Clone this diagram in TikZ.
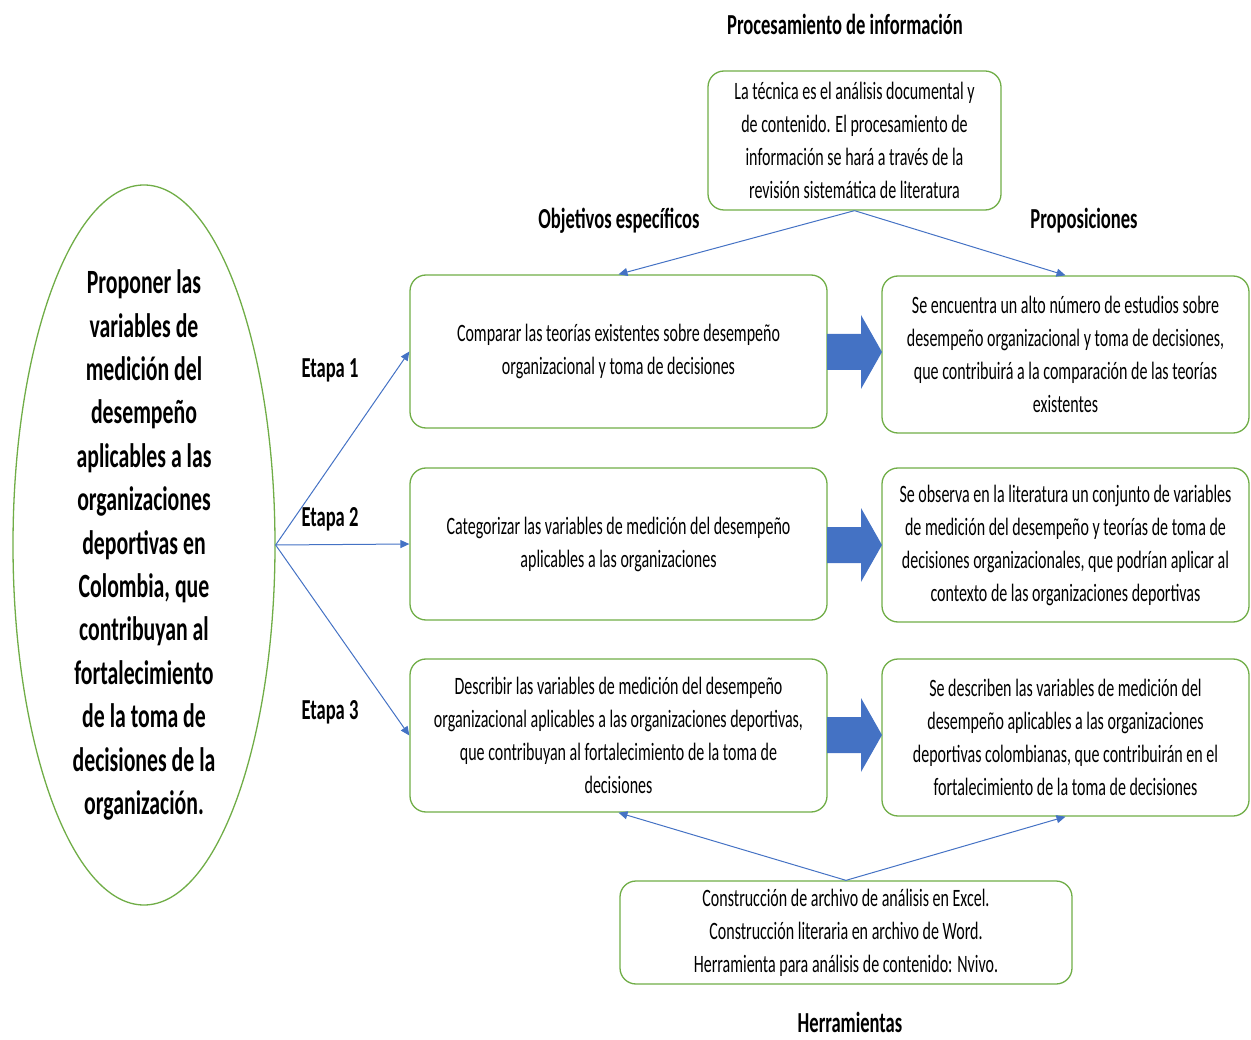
\documentclass[tikz,border=0pt]{standalone}
\usepackage{fontspec}
\setmainfont{Carlito}[FakeStretch=0.64]
\usetikzlibrary{shapes.geometric,arrows.meta}
\definecolor{gborder}{HTML}{70AD47}
\definecolor{bline}{HTML}{4472C4}
\tikzset{
  obox/.style={draw=gborder, line width=1.3pt, rounded corners=16pt, align=center, inner sep=0pt},
  btxt/.style={font=\fontsize{25}{33}\selectfont, align=center},
  lbl/.style={font=\bfseries\fontsize{29}{32}\selectfont, inner sep=0pt},
  arr/.style={draw=bline, line width=1pt, -{Triangle[length=9pt,width=8pt]}},
  blockarrow/.style={fill=bline, draw=none},
}
\begin{document}
\begin{tikzpicture}[x=1pt,y=-1pt]
\useasboundingbox (0,0) rectangle (1251,1040);

% Title labels
\node[lbl] (t1) at (845,24) {Procesamiento de información};
\node[lbl] (t2) at (619,221) {Objetivos específicos};
\node[lbl] (t3) at (1084,221) {Proposiciones};
\node[lbl] (t4) at (850,1022) {Herramientas};

% Top box
\node[obox, minimum width=293pt, minimum height=139pt, btxt] (top) at (854.5,140.5)
 {La técnica es el análisis documental y\\de contenido. El procesamiento de\\información se hará a través de la\\revisión sistemática de literatura};

% Ellipse
\node[ellipse, draw=gborder, line width=1.3pt, minimum width=262pt, minimum height=720pt, inner sep=0pt] (goal) at (144,545) {};
\node[align=center, inner sep=0pt, font=\bfseries\fontsize{34}{43.4}\selectfont] (goaltxt) at (goal.center)
 {Proponer las\\variables de\\medición del\\desempeño\\aplicables a las\\organizaciones\\deportivas en\\Colombia, que\\contribuyan al\\fortalecimiento\\de la toma de\\decisiones de la\\organización.};

% Objective boxes
\node[obox, minimum width=417pt, minimum height=153pt, btxt] (o1) at (618.5,351.5)
 {Comparar las teorías existentes sobre desempeño\\organizacional y toma de decisiones};
\node[obox, minimum width=417pt, minimum height=152pt, btxt] (o2) at (618.5,544)
 {Categorizar las variables de medición del desempeño\\aplicables a las organizaciones};
\node[obox, minimum width=417pt, minimum height=153pt, btxt] (o3) at (618.5,735.5)
 {Describir las variables de medición del desempeño\\organizacional aplicables a las organizaciones deportivas,\\que contribuyan al fortalecimiento de la toma de\\decisiones};

% Proposition boxes
\node[obox, minimum width=367pt, minimum height=157pt, btxt] (p1) at (1065.5,354.5)
 {Se encuentra un alto número de estudios sobre\\desempeño organizacional y toma de decisiones,\\que contribuirá a la comparación de las teorías\\existentes};
\node[obox, minimum width=367pt, minimum height=154pt, btxt] (p2) at (1065.5,545)
 {Se observa en la literatura un conjunto de variables\\de medición del desempeño y teorías de toma de\\decisiones organizacionales, que podrían aplicar al\\contexto de las organizaciones deportivas};
\node[obox, minimum width=367pt, minimum height=157pt, btxt] (p3) at (1065.5,737.5)
 {Se describen las variables de medición del\\desempeño aplicables a las organizaciones\\deportivas colombianas, que contribuirán en el\\fortalecimiento de la toma de decisiones};

% Bottom box
\node[obox, minimum width=452pt, minimum height=103pt, btxt] (bot) at (846,932.5)
 {Construcción de archivo de análisis en Excel.\\Construcción literaria en archivo de Word.\\Herramienta para análisis de contenido: Nvivo.};

% Etapa labels
\node[lbl] (e1) at (330,370) {Etapa 1};
\node[lbl] (e2) at (330,519) {Etapa 2};
\node[lbl] (e3) at (330,712) {Etapa 3};

% Connectors
\draw[arr] (top.south) -- (o1.north);
\draw[arr] (top.south) -- (p1.north);
\draw[arr] (goal.east) -- (o1.west);
\draw[arr] (goal.east) -- (o2.west);
\draw[arr] (goal.east) -- (o3.west);
\draw[arr] (bot.north) -- (o3.south);
\draw[arr] (bot.north) -- (p3.south);

% Block arrows
\foreach \n/\yc in {1/352, 2/545, 3/735} {
  \fill[blockarrow] (827,\yc-18) -- (861,\yc-18) -- (861,\yc-37) -- (882,\yc) -- (861,\yc+37) -- (861,\yc+18) -- (827,\yc+18) -- cycle;
}
\end{tikzpicture}
\end{document}
